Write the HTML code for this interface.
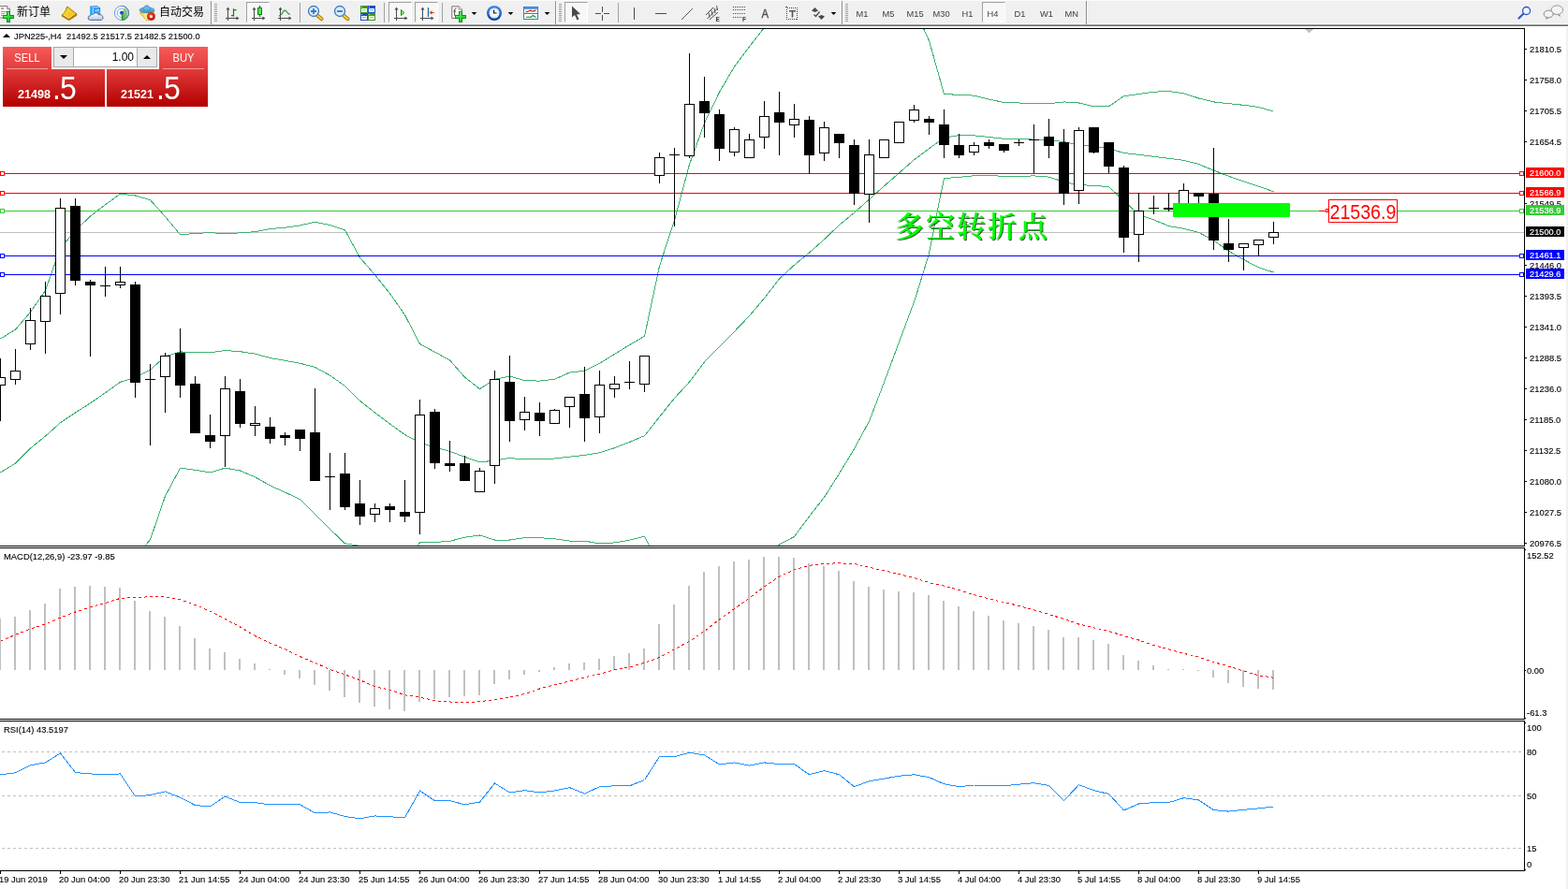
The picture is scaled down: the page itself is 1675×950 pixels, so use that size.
<!DOCTYPE html>
<html lang="zh"><head><meta charset="utf-8"><title>JPN225-,H4</title>
<style>
html,body{margin:0;padding:0;background:#fff;}
body{width:1675px;height:950px;position:relative;overflow:hidden;font-family:"Liberation Sans","Noto Sans CJK SC",sans-serif;font-size:9.3px;color:#000;}
.t{position:absolute;white-space:nowrap;line-height:12px;height:12px;font-size:9.6px;transform:scaleX(.98);transform-origin:0 50%;-webkit-text-stroke:0.12px #000;}
.ax{left:1634px;}
.tag{position:absolute;left:1630px;width:41px;height:11px;line-height:12px;color:#fff;white-space:nowrap;}
.tag span{position:absolute;left:4px;top:0px;font-size:9.6px;transform:scaleX(.965);transform-origin:0 50%;-webkit-text-stroke:0.15px #fff;}
.date{top:934px;}
#edge{position:absolute;left:1673px;top:0;width:2px;height:950px;background:#f0f0f0;}
#big{position:absolute;left:1420.5px;top:213.5px;width:72px;height:25px;line-height:25px;font-size:19.6px;color:#ff0000;white-space:nowrap;transform:scaleY(1.1);transform-origin:0 50%;}
#cn{position:absolute;left:956px;top:222.5px;font-family:"Liberation Serif","Noto Serif CJK SC",serif;font-weight:600;font-size:31px;line-height:40px;color:#00ff00;white-space:nowrap;letter-spacing:2px;text-shadow:1px 1px 0 rgba(0,40,0,.75);}


#tb{position:absolute;left:0;top:0;width:1675px;height:30px;background:#f0f0f0;}
#tb .l0{position:absolute;left:0;top:0;width:1675px;height:1px;background:#fbfbfb;}
#tb .l25{position:absolute;left:0;top:25px;width:1675px;height:1px;background:#f7f7f7;}
#tb .l26{position:absolute;left:0;top:26px;width:1675px;height:1px;background:#a0a0a0;}
#tb .l27{position:absolute;left:0;top:27px;width:1675px;height:1px;background:#696969;}
#tb .l28{position:absolute;left:0;top:28px;width:1675px;height:2px;background:#fff;}
#tb .cn{position:absolute;top:5px;height:16px;line-height:16px;font-size:12px;color:#000;white-space:nowrap;font-family:"Liberation Sans","Noto Sans CJK SC",sans-serif;}
#tb .tf{position:absolute;top:7.500px;height:14px;line-height:14px;font-size:9.3px;color:#3c3c3c;white-space:nowrap;transform-origin:0 50%;transform:scaleY(1.07);}
#tb .pb{position:absolute;top:2px;height:22px;box-sizing:border-box;background:#f0f0f0 repeating-conic-gradient(#ffffff 0 25%,#f0f0f0 0 50%) 0 0/2px 2px;border-left:1px solid #a0a0a0;border-top:1px solid #a0a0a0;border-right:1px solid #fff;border-bottom:1px solid #fff;}
#tb .sep{position:absolute;top:3px;width:1px;height:21px;background:#a0a0a0;}
#tb .sepf{position:absolute;top:1px;width:1px;height:25px;background:#8c8c8c;box-shadow:1px 0 0 #fff;}
#tb .grip{position:absolute;top:4px;width:3px;height:20px;background:repeating-linear-gradient(to bottom,#a0a0a0 0,#a0a0a0 1px,transparent 1px,transparent 2px);}
#sym{position:absolute;left:15px;top:33px;height:12px;line-height:12px;font-size:9.6px;white-space:nowrap;color:#000;transform:scaleX(.972);transform-origin:0 50%;-webkit-text-stroke:0.12px #000;}
#tri{position:absolute;left:3px;top:36px;width:0;height:0;border-left:4px solid transparent;border-right:4px solid transparent;border-bottom:4px solid #000;}
#oc{position:absolute;left:3px;top:50px;width:220px;height:64px;font-family:"Liberation Sans",sans-serif;}
#oc .tab{position:absolute;top:0;height:24px;width:52px;background:linear-gradient(#f55a5a,#e33c3c);}
#oc .tab i{position:absolute;left:4px;right:4px;bottom:0;height:1px;background:#f59a9a;}
#oc .tab span{position:absolute;left:0;right:0;top:4px;text-align:center;color:#fff;font-size:12px;line-height:16px;transform:scaleX(.93);}
#oc .pan{position:absolute;top:24px;height:40px;background:linear-gradient(#e23a3a,#b20000);}
#oc .sm{position:absolute;bottom:7px;color:#fff;font-weight:700;font-size:12.6px;line-height:12px;}
#oc .lg{position:absolute;bottom:2px;color:#fff;font-size:35.500px;line-height:35px;letter-spacing:-1px;transform:scaleX(.9);transform-origin:0 100%;}
#oc .spin{position:absolute;left:54px;top:0;width:111px;height:22px;box-sizing:border-box;border:1px solid #a8a8a8;background:#fff;}
#oc .spin .b{position:absolute;top:0;width:20px;height:20px;background:#e9e9e9;}
#oc .spin .v{position:absolute;right:24px;top:2px;font-size:12px;line-height:16px;color:#000;}
#oc .arr{position:absolute;left:6px;top:8px;width:0;height:0;border-left:4px solid transparent;border-right:4px solid transparent;}

</style></head><body>
<svg width="1675" height="950" viewBox="0 0 1675 950" style="position:absolute;left:0;top:0" shape-rendering="crispEdges">
<defs><clipPath id="cm"><rect x="0" y="31" width="1628" height="552"/></clipPath></defs>
<g clip-path="url(#cm)">
<rect x="0" y="248" width="1628" height="1" fill="#c0c0c0"/>
<polyline points="0.5,362.0 16.5,352.2 32.5,333.5 48.5,310.5 64.5,265.0 80.5,246.5 96.5,231.0 112.5,218.8 128.5,207.1 144.5,209.0 160.5,213.7 176.5,231.5 192.5,250.7 208.5,249.5 224.5,248.6 240.5,249.7 256.5,248.9 272.5,247.7 288.5,244.6 304.5,243.2 320.5,240.9 336.5,237.2 352.5,240.6 368.5,245.8 384.5,275.3 400.5,293.7 416.5,313.7 432.5,336.6 448.5,367.5 464.5,376.2 480.5,384.9 496.5,403.1 512.5,415.7 528.5,405.3 544.5,402.1 560.5,406.7 576.5,407.1 592.5,405.3 608.5,398.1 624.5,396.3 640.5,388.3 656.5,378.4 672.5,368.6 688.5,359.3 704.5,284.2 720.5,235.5 736.5,175.7 752.5,131.5 768.5,98.5 784.5,71.3 800.5,49.8 816.5,29.5 832.5,10.5 848.5,-4.5 864.5,-14.5 880.5,-21.5 896.5,-25.5 912.5,-27.5 928.5,-27.5 944.5,-23.5 960.5,-13.5 976.5,8.5 992.5,43.5 1008.5,100.5 1024.5,101.4 1040.5,102.1 1056.5,106.1 1072.5,109.5 1088.5,110.0 1104.5,110.5 1120.5,110.7 1136.5,108.9 1152.5,110.0 1168.5,113.8 1184.5,113.8 1200.5,102.7 1216.5,100.5 1232.5,98.2 1248.5,97.5 1264.5,99.8 1280.5,105.0 1296.5,108.9 1312.5,110.7 1328.5,112.3 1344.5,114.5 1360.5,119.1" fill="none" stroke="#3cb371" stroke-width="1"/>
<polyline points="0.5,504.8 16.5,495.1 32.5,479.0 48.5,466.0 64.5,451.8 80.5,441.0 96.5,430.8 112.5,419.7 128.5,408.3 144.5,403.5 160.5,395.2 176.5,380.9 192.5,376.0 208.5,376.1 224.5,376.7 240.5,374.5 256.5,375.7 272.5,378.1 288.5,382.5 304.5,385.3 320.5,388.2 336.5,392.5 352.5,401.1 368.5,412.6 384.5,428.3 400.5,441.0 416.5,453.0 432.5,464.5 448.5,473.0 464.5,478.0 480.5,482.3 496.5,488.3 512.5,493.9 528.5,492.1 544.5,489.5 560.5,490.9 576.5,490.9 592.5,490.0 608.5,488.2 624.5,486.4 640.5,483.7 656.5,478.7 672.5,472.4 688.5,465.7 704.5,445.5 720.5,425.5 736.5,408.1 752.5,386.7 768.5,370.5 784.5,354.3 800.5,337.6 816.5,318.7 832.5,298.0 848.5,283.2 864.5,270.0 880.5,255.8 896.5,240.5 912.5,227.4 928.5,213.1 944.5,198.8 960.5,184.8 976.5,170.7 992.5,158.7 1008.5,147.3 1024.5,144.5 1040.5,144.8 1056.5,146.5 1072.5,148.3 1088.5,148.5 1104.5,149.1 1120.5,149.7 1136.5,151.5 1152.5,155.0 1168.5,156.5 1184.5,158.7 1200.5,163.5 1216.5,165.3 1232.5,167.3 1248.5,169.3 1264.5,171.3 1280.5,175.5 1296.5,182.1 1312.5,188.3 1328.5,193.9 1344.5,199.1 1360.5,204.8" fill="none" stroke="#3cb371" stroke-width="1"/>
<polyline points="144.5,600.5 154.8,583.5 160.5,576.7 176.5,530.2 192.5,500.1 208.5,502.3 224.5,505.0 240.5,500.1 256.5,503.0 272.5,509.8 288.5,518.9 304.5,526.1 320.5,533.6 336.5,549.5 352.5,565.4 368.5,580.8 384.5,583.5 400.5,590.5 416.5,592.5 432.5,590.5 445.5,583.5 448.5,579.9 464.5,579.5 480.5,578.3 496.5,574.2 512.5,572.0 528.5,577.0 544.5,577.0 560.5,574.7 576.5,574.7 592.5,575.8 608.5,578.1 624.5,578.1 640.5,581.0 656.5,579.9 672.5,577.2 688.5,573.1 694.0,583.5 704.5,600.5 720.5,610.5 816.5,610.5 831.5,583.5 832.5,581.8 848.5,573.5 864.5,551.7 880.5,531.4 896.5,506.1 912.5,479.7 928.5,450.2 944.5,408.5 960.5,365.4 976.5,322.8 992.5,271.0 1000.5,229.5 1008.5,190.5 1024.5,189.4 1040.5,187.7 1056.5,187.2 1072.5,188.5 1088.5,188.4 1104.5,187.9 1120.5,189.1 1136.5,194.3 1152.5,197.8 1168.5,198.2 1184.5,199.7 1200.5,214.3 1216.5,229.5 1232.5,234.9 1248.5,241.5 1264.5,244.3 1280.5,248.3 1296.5,257.0 1312.5,268.3 1328.5,277.4 1344.5,285.8 1360.5,291.0" fill="none" stroke="#3cb371" stroke-width="1"/>
<rect x="0" y="185" width="1628" height="1" fill="#ff0000"/>
<rect x="0" y="206" width="1628" height="1" fill="#ff0000"/>
<rect x="0" y="225" width="1628" height="1" fill="#32cd32"/>
<rect x="0" y="273" width="1628" height="1" fill="#0000ff"/>
<rect x="0" y="293" width="1628" height="1" fill="#0000ff"/>
<rect x="0" y="383" width="1" height="67" fill="#000"/>
<rect x="-5" y="403" width="11" height="9" fill="#000"/>
<rect x="-4" y="404" width="9" height="7" fill="#fff"/>
<rect x="16" y="373" width="1" height="38" fill="#000"/>
<rect x="11" y="396" width="11" height="10" fill="#000"/>
<rect x="12" y="397" width="9" height="8" fill="#fff"/>
<rect x="32" y="329" width="1" height="45" fill="#000"/>
<rect x="27" y="342" width="11" height="26" fill="#000"/>
<rect x="28" y="343" width="9" height="24" fill="#fff"/>
<rect x="48" y="301" width="1" height="77" fill="#000"/>
<rect x="43" y="316" width="11" height="28" fill="#000"/>
<rect x="44" y="317" width="9" height="26" fill="#fff"/>
<rect x="64" y="212" width="1" height="124" fill="#000"/>
<rect x="59" y="222" width="11" height="92" fill="#000"/>
<rect x="60" y="223" width="9" height="90" fill="#fff"/>
<rect x="80" y="212" width="1" height="93" fill="#000"/>
<rect x="75" y="220" width="11" height="80" fill="#000"/>
<rect x="96" y="299" width="1" height="82" fill="#000"/>
<rect x="91" y="301" width="11" height="4" fill="#000"/>
<rect x="112" y="285" width="1" height="32" fill="#000"/>
<rect x="107" y="305" width="11" height="1" fill="#000"/>
<rect x="128" y="285" width="1" height="23" fill="#000"/>
<rect x="123" y="301" width="11" height="4" fill="#000"/>
<rect x="124" y="302" width="9" height="2" fill="#fff"/>
<rect x="144" y="301" width="1" height="124" fill="#000"/>
<rect x="139" y="304" width="11" height="105" fill="#000"/>
<rect x="160" y="389" width="1" height="87" fill="#000"/>
<rect x="155" y="405" width="11" height="1" fill="#000"/>
<rect x="176" y="377" width="1" height="64" fill="#000"/>
<rect x="171" y="380" width="11" height="23" fill="#000"/>
<rect x="172" y="381" width="9" height="21" fill="#fff"/>
<rect x="192" y="351" width="1" height="74" fill="#000"/>
<rect x="187" y="377" width="11" height="35" fill="#000"/>
<rect x="208" y="402" width="1" height="61" fill="#000"/>
<rect x="203" y="410" width="11" height="53" fill="#000"/>
<rect x="224" y="443" width="1" height="36" fill="#000"/>
<rect x="219" y="465" width="11" height="7" fill="#000"/>
<rect x="240" y="402" width="1" height="97" fill="#000"/>
<rect x="235" y="415" width="11" height="51" fill="#000"/>
<rect x="236" y="416" width="9" height="49" fill="#fff"/>
<rect x="256" y="405" width="1" height="52" fill="#000"/>
<rect x="251" y="418" width="11" height="35" fill="#000"/>
<rect x="272" y="434" width="1" height="32" fill="#000"/>
<rect x="267" y="452" width="11" height="3" fill="#000"/>
<rect x="268" y="453" width="9" height="1" fill="#fff"/>
<rect x="288" y="446" width="1" height="28" fill="#000"/>
<rect x="283" y="456" width="11" height="13" fill="#000"/>
<rect x="304" y="462" width="1" height="14" fill="#000"/>
<rect x="299" y="465" width="11" height="3" fill="#000"/>
<rect x="320" y="459" width="1" height="23" fill="#000"/>
<rect x="315" y="459" width="11" height="10" fill="#000"/>
<rect x="336" y="415" width="1" height="99" fill="#000"/>
<rect x="331" y="462" width="11" height="52" fill="#000"/>
<rect x="352" y="484" width="1" height="61" fill="#000"/>
<rect x="347" y="509" width="11" height="1" fill="#000"/>
<rect x="368" y="484" width="1" height="61" fill="#000"/>
<rect x="363" y="506" width="11" height="36" fill="#000"/>
<rect x="384" y="513" width="1" height="48" fill="#000"/>
<rect x="379" y="538" width="11" height="14" fill="#000"/>
<rect x="400" y="538" width="1" height="20" fill="#000"/>
<rect x="395" y="543" width="11" height="7" fill="#000"/>
<rect x="396" y="544" width="9" height="5" fill="#fff"/>
<rect x="416" y="538" width="1" height="20" fill="#000"/>
<rect x="411" y="541" width="11" height="4" fill="#000"/>
<rect x="432" y="513" width="1" height="45" fill="#000"/>
<rect x="427" y="547" width="11" height="5" fill="#000"/>
<rect x="448" y="427" width="1" height="144" fill="#000"/>
<rect x="443" y="443" width="11" height="105" fill="#000"/>
<rect x="444" y="444" width="9" height="103" fill="#fff"/>
<rect x="464" y="437" width="1" height="64" fill="#000"/>
<rect x="459" y="440" width="11" height="55" fill="#000"/>
<rect x="480" y="471" width="1" height="33" fill="#000"/>
<rect x="475" y="495" width="11" height="3" fill="#000"/>
<rect x="496" y="487" width="1" height="27" fill="#000"/>
<rect x="491" y="495" width="11" height="19" fill="#000"/>
<rect x="512" y="500" width="1" height="26" fill="#000"/>
<rect x="507" y="503" width="11" height="23" fill="#000"/>
<rect x="508" y="504" width="9" height="21" fill="#fff"/>
<rect x="528" y="396" width="1" height="121" fill="#000"/>
<rect x="523" y="405" width="11" height="93" fill="#000"/>
<rect x="524" y="406" width="9" height="91" fill="#fff"/>
<rect x="544" y="380" width="1" height="92" fill="#000"/>
<rect x="539" y="408" width="11" height="42" fill="#000"/>
<rect x="560" y="424" width="1" height="36" fill="#000"/>
<rect x="555" y="440" width="11" height="9" fill="#000"/>
<rect x="556" y="441" width="9" height="7" fill="#fff"/>
<rect x="576" y="430" width="1" height="36" fill="#000"/>
<rect x="571" y="441" width="11" height="9" fill="#000"/>
<rect x="592" y="437" width="1" height="16" fill="#000"/>
<rect x="587" y="438" width="11" height="15" fill="#000"/>
<rect x="588" y="439" width="9" height="13" fill="#fff"/>
<rect x="608" y="424" width="1" height="33" fill="#000"/>
<rect x="603" y="424" width="11" height="11" fill="#000"/>
<rect x="604" y="425" width="9" height="9" fill="#fff"/>
<rect x="624" y="392" width="1" height="80" fill="#000"/>
<rect x="619" y="421" width="11" height="26" fill="#000"/>
<rect x="640" y="396" width="1" height="67" fill="#000"/>
<rect x="635" y="411" width="11" height="35" fill="#000"/>
<rect x="636" y="412" width="9" height="33" fill="#fff"/>
<rect x="656" y="402" width="1" height="23" fill="#000"/>
<rect x="651" y="410" width="11" height="6" fill="#000"/>
<rect x="652" y="411" width="9" height="4" fill="#fff"/>
<rect x="672" y="386" width="1" height="30" fill="#000"/>
<rect x="667" y="408" width="11" height="1" fill="#000"/>
<rect x="688" y="380" width="1" height="39" fill="#000"/>
<rect x="683" y="380" width="11" height="31" fill="#000"/>
<rect x="684" y="381" width="9" height="29" fill="#fff"/>
<rect x="704" y="163" width="1" height="33" fill="#000"/>
<rect x="699" y="168" width="11" height="20" fill="#000"/>
<rect x="700" y="169" width="9" height="18" fill="#fff"/>
<rect x="720" y="158" width="1" height="84" fill="#000"/>
<rect x="715" y="165" width="11" height="1" fill="#000"/>
<rect x="736" y="57" width="1" height="112" fill="#000"/>
<rect x="731" y="111" width="11" height="56" fill="#000"/>
<rect x="732" y="112" width="9" height="54" fill="#fff"/>
<rect x="752" y="82" width="1" height="65" fill="#000"/>
<rect x="747" y="108" width="11" height="13" fill="#000"/>
<rect x="768" y="117" width="1" height="55" fill="#000"/>
<rect x="763" y="122" width="11" height="37" fill="#000"/>
<rect x="784" y="136" width="1" height="31" fill="#000"/>
<rect x="779" y="138" width="11" height="25" fill="#000"/>
<rect x="780" y="139" width="9" height="23" fill="#fff"/>
<rect x="800" y="143" width="1" height="26" fill="#000"/>
<rect x="795" y="149" width="11" height="20" fill="#000"/>
<rect x="796" y="150" width="9" height="18" fill="#fff"/>
<rect x="816" y="108" width="1" height="51" fill="#000"/>
<rect x="811" y="124" width="11" height="23" fill="#000"/>
<rect x="812" y="125" width="9" height="21" fill="#fff"/>
<rect x="832" y="98" width="1" height="68" fill="#000"/>
<rect x="827" y="120" width="11" height="11" fill="#000"/>
<rect x="848" y="111" width="1" height="36" fill="#000"/>
<rect x="843" y="127" width="11" height="7" fill="#000"/>
<rect x="844" y="128" width="9" height="5" fill="#fff"/>
<rect x="864" y="124" width="1" height="62" fill="#000"/>
<rect x="859" y="128" width="11" height="38" fill="#000"/>
<rect x="880" y="130" width="1" height="42" fill="#000"/>
<rect x="875" y="136" width="11" height="28" fill="#000"/>
<rect x="876" y="137" width="9" height="26" fill="#fff"/>
<rect x="896" y="143" width="1" height="26" fill="#000"/>
<rect x="891" y="143" width="11" height="10" fill="#000"/>
<rect x="912" y="149" width="1" height="70" fill="#000"/>
<rect x="907" y="155" width="11" height="52" fill="#000"/>
<rect x="928" y="149" width="1" height="89" fill="#000"/>
<rect x="923" y="165" width="11" height="43" fill="#000"/>
<rect x="924" y="166" width="9" height="41" fill="#fff"/>
<rect x="944" y="149" width="1" height="20" fill="#000"/>
<rect x="939" y="149" width="11" height="20" fill="#000"/>
<rect x="940" y="150" width="9" height="18" fill="#fff"/>
<rect x="960" y="130" width="1" height="23" fill="#000"/>
<rect x="955" y="130" width="11" height="23" fill="#000"/>
<rect x="956" y="131" width="9" height="21" fill="#fff"/>
<rect x="976" y="112" width="1" height="19" fill="#000"/>
<rect x="971" y="117" width="11" height="12" fill="#000"/>
<rect x="972" y="118" width="9" height="10" fill="#fff"/>
<rect x="992" y="124" width="1" height="20" fill="#000"/>
<rect x="987" y="127" width="11" height="4" fill="#000"/>
<rect x="1008" y="117" width="1" height="52" fill="#000"/>
<rect x="1003" y="133" width="11" height="22" fill="#000"/>
<rect x="1024" y="143" width="1" height="26" fill="#000"/>
<rect x="1019" y="155" width="11" height="11" fill="#000"/>
<rect x="1040" y="152" width="1" height="14" fill="#000"/>
<rect x="1035" y="155" width="11" height="8" fill="#000"/>
<rect x="1036" y="156" width="9" height="6" fill="#fff"/>
<rect x="1056" y="149" width="1" height="10" fill="#000"/>
<rect x="1051" y="152" width="11" height="4" fill="#000"/>
<rect x="1072" y="154" width="1" height="9" fill="#000"/>
<rect x="1067" y="154" width="11" height="7" fill="#000"/>
<rect x="1088" y="149" width="1" height="7" fill="#000"/>
<rect x="1083" y="152" width="11" height="1" fill="#000"/>
<rect x="1104" y="133" width="1" height="52" fill="#000"/>
<rect x="1099" y="149" width="11" height="1" fill="#000"/>
<rect x="1120" y="127" width="1" height="42" fill="#000"/>
<rect x="1115" y="146" width="11" height="10" fill="#000"/>
<rect x="1136" y="138" width="1" height="81" fill="#000"/>
<rect x="1131" y="152" width="11" height="55" fill="#000"/>
<rect x="1152" y="136" width="1" height="82" fill="#000"/>
<rect x="1147" y="139" width="11" height="65" fill="#000"/>
<rect x="1148" y="140" width="9" height="63" fill="#fff"/>
<rect x="1168" y="136" width="1" height="28" fill="#000"/>
<rect x="1163" y="136" width="11" height="27" fill="#000"/>
<rect x="1184" y="152" width="1" height="33" fill="#000"/>
<rect x="1179" y="152" width="11" height="26" fill="#000"/>
<rect x="1200" y="177" width="1" height="93" fill="#000"/>
<rect x="1195" y="179" width="11" height="75" fill="#000"/>
<rect x="1216" y="206" width="1" height="74" fill="#000"/>
<rect x="1211" y="225" width="11" height="26" fill="#000"/>
<rect x="1212" y="226" width="9" height="24" fill="#fff"/>
<rect x="1232" y="209" width="1" height="20" fill="#000"/>
<rect x="1227" y="222" width="11" height="1" fill="#000"/>
<rect x="1248" y="206" width="1" height="20" fill="#000"/>
<rect x="1243" y="222" width="11" height="2" fill="#000"/>
<rect x="1264" y="196" width="1" height="27" fill="#000"/>
<rect x="1259" y="203" width="11" height="20" fill="#000"/>
<rect x="1260" y="204" width="9" height="18" fill="#fff"/>
<rect x="1280" y="206" width="1" height="13" fill="#000"/>
<rect x="1275" y="206" width="11" height="4" fill="#000"/>
<rect x="1296" y="158" width="1" height="109" fill="#000"/>
<rect x="1291" y="207" width="11" height="50" fill="#000"/>
<rect x="1312" y="234" width="1" height="46" fill="#000"/>
<rect x="1307" y="260" width="11" height="7" fill="#000"/>
<rect x="1328" y="260" width="1" height="29" fill="#000"/>
<rect x="1323" y="260" width="11" height="5" fill="#000"/>
<rect x="1324" y="261" width="9" height="3" fill="#fff"/>
<rect x="1344" y="256" width="1" height="18" fill="#000"/>
<rect x="1339" y="256" width="11" height="6" fill="#000"/>
<rect x="1340" y="257" width="9" height="4" fill="#fff"/>
<rect x="1360" y="237" width="1" height="24" fill="#000"/>
<rect x="1355" y="248" width="11" height="6" fill="#000"/>
<rect x="1356" y="249" width="9" height="4" fill="#fff"/>
<rect x="0.5" y="183.5" width="4" height="4" fill="#fff" stroke="#ff0000" stroke-width="1"/>
<rect x="1623.5" y="183.5" width="4" height="4" fill="#fff" stroke="#ff0000" stroke-width="1"/>
<rect x="0.5" y="204.5" width="4" height="4" fill="#fff" stroke="#ff0000" stroke-width="1"/>
<rect x="1623.5" y="204.5" width="4" height="4" fill="#fff" stroke="#ff0000" stroke-width="1"/>
<rect x="0.5" y="223.5" width="4" height="4" fill="#fff" stroke="#32cd32" stroke-width="1"/>
<rect x="1623.5" y="223.5" width="4" height="4" fill="#fff" stroke="#32cd32" stroke-width="1"/>
<rect x="0.5" y="271.5" width="4" height="4" fill="#fff" stroke="#0000ff" stroke-width="1"/>
<rect x="1623.5" y="271.5" width="4" height="4" fill="#fff" stroke="#0000ff" stroke-width="1"/>
<rect x="0.5" y="291.5" width="4" height="4" fill="#fff" stroke="#0000ff" stroke-width="1"/>
<rect x="1623.5" y="291.5" width="4" height="4" fill="#fff" stroke="#0000ff" stroke-width="1"/>
<rect x="1253" y="217" width="125" height="15" fill="#00ff00"/>
<rect x="1409" y="225" width="8" height="1" fill="#ff0000"/>
<rect x="1416.5" y="223.5" width="2" height="3" fill="#fff" stroke="#ff0000" stroke-width="1"/>
<rect x="1419.5" y="213.5" width="73" height="24" fill="#fff" stroke="#ff0000" stroke-width="1"/>
</g>
<polygon points="1394,31 1403,31 1398.5,35.5" fill="#c0c0c0" shape-rendering="geometricPrecision"/>
<rect x="0" y="30" width="1629" height="1" fill="#000"/>
<rect x="1628" y="30" width="1" height="901" fill="#000"/>
<rect x="0" y="583" width="1629" height="1" fill="#000"/>
<rect x="0" y="584" width="1628" height="1" fill="#fff"/>
<rect x="0" y="585" width="1629" height="1" fill="#000"/>
<rect x="0" y="768" width="1629" height="1" fill="#000"/>
<rect x="0" y="769" width="1628" height="1" fill="#fff"/>
<rect x="0" y="770" width="1629" height="1" fill="#000"/>
<rect x="0" y="930" width="1629" height="1" fill="#000"/>
<rect x="1628" y="584" width="1" height="1" fill="#fff"/>
<rect x="1628" y="769" width="1" height="1" fill="#fff"/>
<rect x="1629" y="52" width="2" height="1" fill="#000"/>
<rect x="1629" y="85" width="2" height="1" fill="#000"/>
<rect x="1629" y="118" width="2" height="1" fill="#000"/>
<rect x="1629" y="151" width="2" height="1" fill="#000"/>
<rect x="1629" y="217" width="2" height="1" fill="#000"/>
<rect x="1629" y="283" width="2" height="1" fill="#000"/>
<rect x="1629" y="316" width="2" height="1" fill="#000"/>
<rect x="1629" y="349" width="2" height="1" fill="#000"/>
<rect x="1629" y="382" width="2" height="1" fill="#000"/>
<rect x="1629" y="415" width="2" height="1" fill="#000"/>
<rect x="1629" y="448" width="2" height="1" fill="#000"/>
<rect x="1629" y="481" width="2" height="1" fill="#000"/>
<rect x="1629" y="514" width="2" height="1" fill="#000"/>
<rect x="1629" y="547" width="2" height="1" fill="#000"/>
<rect x="1629" y="580" width="2" height="1" fill="#000"/>
<rect x="1629" y="587" width="1" height="1" fill="#000"/>
<rect x="1629" y="716" width="1" height="1" fill="#000"/>
<rect x="1629" y="767" width="1" height="1" fill="#000"/>
<rect x="1629" y="772" width="1" height="1" fill="#000"/>
<rect x="1629" y="929" width="1" height="1" fill="#000"/>
<rect x="0" y="931" width="1" height="3" fill="#000"/>
<rect x="64" y="931" width="1" height="3" fill="#000"/>
<rect x="128" y="931" width="1" height="3" fill="#000"/>
<rect x="192" y="931" width="1" height="3" fill="#000"/>
<rect x="256" y="931" width="1" height="3" fill="#000"/>
<rect x="320" y="931" width="1" height="3" fill="#000"/>
<rect x="384" y="931" width="1" height="3" fill="#000"/>
<rect x="448" y="931" width="1" height="3" fill="#000"/>
<rect x="512" y="931" width="1" height="3" fill="#000"/>
<rect x="576" y="931" width="1" height="3" fill="#000"/>
<rect x="640" y="931" width="1" height="3" fill="#000"/>
<rect x="704" y="931" width="1" height="3" fill="#000"/>
<rect x="768" y="931" width="1" height="3" fill="#000"/>
<rect x="832" y="931" width="1" height="3" fill="#000"/>
<rect x="896" y="931" width="1" height="3" fill="#000"/>
<rect x="960" y="931" width="1" height="3" fill="#000"/>
<rect x="1024" y="931" width="1" height="3" fill="#000"/>
<rect x="1088" y="931" width="1" height="3" fill="#000"/>
<rect x="1152" y="931" width="1" height="3" fill="#000"/>
<rect x="1216" y="931" width="1" height="3" fill="#000"/>
<rect x="1280" y="931" width="1" height="3" fill="#000"/>
<rect x="1344" y="931" width="1" height="3" fill="#000"/>
<rect x="-1" y="661" width="2" height="55" fill="#c0c0c0"/>
<rect x="15" y="659" width="2" height="57" fill="#c0c0c0"/>
<rect x="31" y="652" width="2" height="64" fill="#c0c0c0"/>
<rect x="47" y="645" width="2" height="71" fill="#c0c0c0"/>
<rect x="63" y="629" width="2" height="87" fill="#c0c0c0"/>
<rect x="79" y="627" width="2" height="89" fill="#c0c0c0"/>
<rect x="95" y="626" width="2" height="90" fill="#c0c0c0"/>
<rect x="111" y="627" width="2" height="89" fill="#c0c0c0"/>
<rect x="127" y="628" width="2" height="88" fill="#c0c0c0"/>
<rect x="143" y="642" width="2" height="74" fill="#c0c0c0"/>
<rect x="159" y="653" width="2" height="63" fill="#c0c0c0"/>
<rect x="175" y="659" width="2" height="57" fill="#c0c0c0"/>
<rect x="191" y="669" width="2" height="47" fill="#c0c0c0"/>
<rect x="207" y="682" width="2" height="34" fill="#c0c0c0"/>
<rect x="223" y="693" width="2" height="23" fill="#c0c0c0"/>
<rect x="239" y="697" width="2" height="19" fill="#c0c0c0"/>
<rect x="255" y="704" width="2" height="12" fill="#c0c0c0"/>
<rect x="271" y="709" width="2" height="7" fill="#c0c0c0"/>
<rect x="287" y="715" width="2" height="1" fill="#c0c0c0"/>
<rect x="303" y="716" width="2" height="5" fill="#c0c0c0"/>
<rect x="319" y="716" width="2" height="9" fill="#c0c0c0"/>
<rect x="335" y="716" width="2" height="16" fill="#c0c0c0"/>
<rect x="351" y="716" width="2" height="22" fill="#c0c0c0"/>
<rect x="367" y="716" width="2" height="29" fill="#c0c0c0"/>
<rect x="383" y="716" width="2" height="35" fill="#c0c0c0"/>
<rect x="399" y="716" width="2" height="39" fill="#c0c0c0"/>
<rect x="415" y="716" width="2" height="42" fill="#c0c0c0"/>
<rect x="431" y="716" width="2" height="44" fill="#c0c0c0"/>
<rect x="447" y="716" width="2" height="34" fill="#c0c0c0"/>
<rect x="463" y="716" width="2" height="31" fill="#c0c0c0"/>
<rect x="479" y="716" width="2" height="29" fill="#c0c0c0"/>
<rect x="495" y="716" width="2" height="28" fill="#c0c0c0"/>
<rect x="511" y="716" width="2" height="27" fill="#c0c0c0"/>
<rect x="527" y="716" width="2" height="15" fill="#c0c0c0"/>
<rect x="543" y="716" width="2" height="10" fill="#c0c0c0"/>
<rect x="559" y="716" width="2" height="5" fill="#c0c0c0"/>
<rect x="575" y="716" width="2" height="2" fill="#c0c0c0"/>
<rect x="591" y="713" width="2" height="3" fill="#c0c0c0"/>
<rect x="607" y="709" width="2" height="7" fill="#c0c0c0"/>
<rect x="623" y="708" width="2" height="8" fill="#c0c0c0"/>
<rect x="639" y="704" width="2" height="12" fill="#c0c0c0"/>
<rect x="655" y="701" width="2" height="15" fill="#c0c0c0"/>
<rect x="671" y="698" width="2" height="18" fill="#c0c0c0"/>
<rect x="687" y="693" width="2" height="23" fill="#c0c0c0"/>
<rect x="703" y="667" width="2" height="49" fill="#c0c0c0"/>
<rect x="719" y="646" width="2" height="70" fill="#c0c0c0"/>
<rect x="735" y="626" width="2" height="90" fill="#c0c0c0"/>
<rect x="751" y="611" width="2" height="105" fill="#c0c0c0"/>
<rect x="767" y="605" width="2" height="111" fill="#c0c0c0"/>
<rect x="783" y="600" width="2" height="116" fill="#c0c0c0"/>
<rect x="799" y="598" width="2" height="118" fill="#c0c0c0"/>
<rect x="815" y="595" width="2" height="121" fill="#c0c0c0"/>
<rect x="831" y="595" width="2" height="121" fill="#c0c0c0"/>
<rect x="847" y="596" width="2" height="120" fill="#c0c0c0"/>
<rect x="863" y="602" width="2" height="114" fill="#c0c0c0"/>
<rect x="879" y="605" width="2" height="111" fill="#c0c0c0"/>
<rect x="895" y="610" width="2" height="106" fill="#c0c0c0"/>
<rect x="911" y="621" width="2" height="95" fill="#c0c0c0"/>
<rect x="927" y="627" width="2" height="89" fill="#c0c0c0"/>
<rect x="943" y="630" width="2" height="86" fill="#c0c0c0"/>
<rect x="959" y="632" width="2" height="84" fill="#c0c0c0"/>
<rect x="975" y="633" width="2" height="83" fill="#c0c0c0"/>
<rect x="991" y="636" width="2" height="80" fill="#c0c0c0"/>
<rect x="1007" y="642" width="2" height="74" fill="#c0c0c0"/>
<rect x="1023" y="648" width="2" height="68" fill="#c0c0c0"/>
<rect x="1039" y="653" width="2" height="63" fill="#c0c0c0"/>
<rect x="1055" y="658" width="2" height="58" fill="#c0c0c0"/>
<rect x="1071" y="663" width="2" height="53" fill="#c0c0c0"/>
<rect x="1087" y="666" width="2" height="50" fill="#c0c0c0"/>
<rect x="1103" y="669" width="2" height="47" fill="#c0c0c0"/>
<rect x="1119" y="673" width="2" height="43" fill="#c0c0c0"/>
<rect x="1135" y="681" width="2" height="35" fill="#c0c0c0"/>
<rect x="1151" y="681" width="2" height="35" fill="#c0c0c0"/>
<rect x="1167" y="684" width="2" height="32" fill="#c0c0c0"/>
<rect x="1183" y="688" width="2" height="28" fill="#c0c0c0"/>
<rect x="1199" y="700" width="2" height="16" fill="#c0c0c0"/>
<rect x="1215" y="706" width="2" height="10" fill="#c0c0c0"/>
<rect x="1231" y="711" width="2" height="5" fill="#c0c0c0"/>
<rect x="1247" y="715" width="2" height="1" fill="#c0c0c0"/>
<rect x="1263" y="715" width="2" height="1" fill="#c0c0c0"/>
<rect x="1279" y="716" width="2" height="1" fill="#c0c0c0"/>
<rect x="1295" y="716" width="2" height="8" fill="#c0c0c0"/>
<rect x="1311" y="716" width="2" height="14" fill="#c0c0c0"/>
<rect x="1327" y="716" width="2" height="18" fill="#c0c0c0"/>
<rect x="1343" y="716" width="2" height="20" fill="#c0c0c0"/>
<rect x="1359" y="716" width="2" height="21" fill="#c0c0c0"/>
<polyline points="0.5,685.3 16.5,678.3 32.5,672.0 48.5,667.0 64.5,660.0 80.5,654.0 96.5,648.9 112.5,644.4 128.5,639.4 144.5,638.2 160.5,637.9 176.5,637.9 192.5,640.7 208.5,646.4 224.5,653.2 240.5,661.5 256.5,670.0 272.5,679.5 288.5,687.1 304.5,693.8 320.5,701.6 336.5,708.4 352.5,715.4 368.5,720.9 384.5,726.7 400.5,733.7 416.5,737.2 432.5,742.7 448.5,745.2 464.5,748.7 480.5,750.0 496.5,750.7 512.5,749.7 528.5,747.7 544.5,745.2 560.5,741.5 576.5,736.0 592.5,731.7 608.5,727.9 624.5,723.9 640.5,720.2 656.5,715.9 672.5,712.9 688.5,708.4 704.5,702.6 720.5,693.8 736.5,685.3 752.5,674.5 768.5,662.0 784.5,650.7 800.5,639.1 816.5,626.9 832.5,616.1 848.5,608.8 864.5,604.3 880.5,602.3 896.5,601.8 912.5,602.5 928.5,606.3 944.5,609.8 960.5,613.6 976.5,617.6 992.5,622.6 1008.5,626.1 1024.5,630.6 1040.5,635.6 1056.5,639.9 1072.5,643.7 1088.5,647.4 1104.5,651.9 1120.5,656.5 1136.5,661.5 1152.5,667.0 1168.5,670.8 1184.5,674.5 1200.5,679.5 1216.5,684.0 1232.5,689.5 1248.5,693.8 1264.5,698.3 1280.5,702.1 1296.5,707.6 1312.5,712.1 1328.5,717.1 1344.5,721.7 1360.5,724.2" fill="none" stroke="#ff0000" stroke-width="1" stroke-dasharray="3 3"/>
<line x1="2" y1="803.5" x2="1628" y2="803.5" stroke="#c0c0c0" stroke-width="1" stroke-dasharray="3 3"/>
<line x1="2" y1="850.5" x2="1628" y2="850.5" stroke="#c0c0c0" stroke-width="1" stroke-dasharray="3 3"/>
<line x1="2" y1="906.5" x2="1628" y2="906.5" stroke="#c0c0c0" stroke-width="1" stroke-dasharray="3 3"/>
<polyline points="0.5,827.8 16.5,825.8 32.5,817.8 48.5,814.9 64.5,804.9 80.5,825.5 96.5,826.9 112.5,827.8 128.5,826.9 144.5,851.0 160.5,849.6 176.5,845.9 192.5,852.2 208.5,860.5 224.5,861.9 240.5,851.0 256.5,857.6 272.5,857.6 288.5,859.9 304.5,859.9 320.5,859.9 336.5,868.8 352.5,867.9 368.5,872.5 384.5,874.8 400.5,871.9 416.5,872.8 432.5,873.7 448.5,845.0 464.5,855.6 480.5,855.6 496.5,859.9 512.5,857.0 528.5,837.0 544.5,847.0 560.5,844.7 576.5,847.0 592.5,845.0 608.5,841.6 624.5,848.2 640.5,840.7 656.5,839.8 672.5,839.8 688.5,833.5 704.5,808.6 720.5,808.6 736.5,804.3 752.5,806.9 768.5,816.9 784.5,814.9 800.5,818.1 816.5,814.9 832.5,816.6 848.5,816.6 864.5,827.8 880.5,823.5 896.5,827.8 912.5,840.7 928.5,834.7 944.5,832.1 960.5,829.2 976.5,827.8 992.5,830.7 1008.5,837.8 1024.5,840.7 1040.5,839.0 1056.5,839.0 1072.5,839.8 1088.5,838.1 1104.5,836.7 1120.5,839.5 1136.5,855.6 1152.5,838.7 1168.5,844.7 1184.5,848.4 1200.5,865.9 1216.5,859.0 1232.5,857.6 1248.5,857.6 1264.5,852.7 1280.5,855.0 1296.5,865.6 1312.5,867.1 1328.5,865.3 1344.5,863.9 1360.5,861.9" fill="none" stroke="#1e90ff" stroke-width="1"/>
</svg>
<div id="edge"></div>
<div class="t ax" style="top:47px">21810.5</div>
<div class="t ax" style="top:80px">21758.0</div>
<div class="t ax" style="top:113px">21705.5</div>
<div class="t ax" style="top:146px">21654.5</div>
<div class="t ax" style="top:212px">21549.5</div>
<div class="t ax" style="top:278px">21446.0</div>
<div class="t ax" style="top:311px">21393.5</div>
<div class="t ax" style="top:344px">21341.0</div>
<div class="t ax" style="top:377px">21288.5</div>
<div class="t ax" style="top:410px">21236.0</div>
<div class="t ax" style="top:443px">21185.0</div>
<div class="t ax" style="top:476px">21132.5</div>
<div class="t ax" style="top:509px">21080.0</div>
<div class="t ax" style="top:542px">21027.5</div>
<div class="t ax" style="top:575px">20976.5</div>
<div class="t" style="left:1631px;top:588px">152.52</div>
<div class="t" style="left:1631px;top:711px">0.00</div>
<div class="t" style="left:1631px;top:756px">-61.3</div>
<div class="t" style="left:1631px;top:772px">100</div>
<div class="t" style="left:1631px;top:798px">80</div>
<div class="t" style="left:1631px;top:845px">50</div>
<div class="t" style="left:1631px;top:901px">15</div>
<div class="t" style="left:1631px;top:918px">0</div>
<div class="tag" style="top:179px;background:#ff0000"><span>21600.0</span></div>
<div class="tag" style="top:200px;background:#ff0000"><span>21566.9</span></div>
<div class="tag" style="top:219px;background:#32cd32"><span>21536.9</span></div>
<div class="tag" style="top:242px;background:#000000"><span>21500.0</span></div>
<div class="tag" style="top:267px;background:#0000ff"><span>21461.1</span></div>
<div class="tag" style="top:287px;background:#0000ff"><span>21429.6</span></div>
<div class="t date" style="left:-1px">19 Jun 2019</div>
<div class="t date" style="left:63px">20 Jun 04:00</div>
<div class="t date" style="left:127px">20 Jun 23:30</div>
<div class="t date" style="left:191px">21 Jun 14:55</div>
<div class="t date" style="left:255px">24 Jun 04:00</div>
<div class="t date" style="left:319px">24 Jun 23:30</div>
<div class="t date" style="left:383px">25 Jun 14:55</div>
<div class="t date" style="left:447px">26 Jun 04:00</div>
<div class="t date" style="left:511px">26 Jun 23:30</div>
<div class="t date" style="left:575px">27 Jun 14:55</div>
<div class="t date" style="left:639px">28 Jun 04:00</div>
<div class="t date" style="left:703px">30 Jun 23:30</div>
<div class="t date" style="left:767px">1 Jul 14:55</div>
<div class="t date" style="left:831px">2 Jul 04:00</div>
<div class="t date" style="left:895px">2 Jul 23:30</div>
<div class="t date" style="left:959px">3 Jul 14:55</div>
<div class="t date" style="left:1023px">4 Jul 04:00</div>
<div class="t date" style="left:1087px">4 Jul 23:30</div>
<div class="t date" style="left:1151px">5 Jul 14:55</div>
<div class="t date" style="left:1215px">8 Jul 04:00</div>
<div class="t date" style="left:1279px">8 Jul 23:30</div>
<div class="t date" style="left:1343px">9 Jul 14:55</div>
<div class="t" style="left:4px;top:589px">MACD(12,26,9) -23.97 -9.85</div>
<div class="t" style="left:4px;top:774px">RSI(14) 43.5197</div>
<div id="big">21536.9</div>
<div id="cn">多空转折点</div>
<div id="tb"><div class="l0"></div><div class="l25"></div><div class="l26"></div><div class="l27"></div><div class="l28"></div><div class="sepf" style="left:225px"></div><div class="grip" style="left:229px"></div><div class="pb" style="left:263px;width:25px"></div><div class="sep" style="left:320px"></div><div class="sep" style="left:410px"></div><div class="pb" style="left:415px;width:25px"></div><div class="pb" style="left:443px;width:25px"></div><div class="sep" style="left:472px"></div><div class="sepf" style="left:593px"></div><div class="grip" style="left:597px"></div><div class="pb" style="left:603px;width:25px"></div><div class="sep" style="left:660px"></div><div class="sepf" style="left:899px"></div><div class="grip" style="left:903px"></div><div class="pb" style="left:1049px;width:25px"></div><div class="sepf" style="left:1160px"></div><svg width="1675" height="30" viewBox="0 0 1675 30" style="position:absolute;left:0;top:0"><defs><linearGradient id="gp" x1="0" y1="0" x2="1" y2="1"><stop offset="0" stop-color="#8cf890"/><stop offset=".5" stop-color="#28e038"/><stop offset="1" stop-color="#18b828"/></linearGradient><linearGradient id="gbk" x1="0" y1="0" x2="1" y2="1"><stop offset="0" stop-color="#c88a10"/><stop offset=".35" stop-color="#f8d828"/><stop offset=".7" stop-color="#eec020"/><stop offset="1" stop-color="#c08810"/></linearGradient><linearGradient id="gcl" x1="0" y1="0" x2="0" y2="1"><stop offset="0" stop-color="#ffffff"/><stop offset="1" stop-color="#bccbe2"/></linearGradient><linearGradient id="ghat" x1="0" y1="0" x2="0" y2="1"><stop offset="0" stop-color="#7cc4ec"/><stop offset="1" stop-color="#3a90c8"/></linearGradient><linearGradient id="gface" x1="0" y1="0" x2="1" y2="0"><stop offset="0" stop-color="#f0c020"/><stop offset=".45" stop-color="#fff088"/><stop offset="1" stop-color="#f0c828"/></linearGradient><radialGradient id="grad" cx=".35" cy=".35" r=".7"><stop offset="0" stop-color="#ff5030"/><stop offset="1" stop-color="#c01000"/></radialGradient><linearGradient id="grd" x1="0" y1="1" x2="1" y2="0"><stop offset="0" stop-color="#2aa82a"/><stop offset=".6" stop-color="#9ed09a"/><stop offset="1" stop-color="#d8e8dc"/></linearGradient></defs><path d="M-2 6.500h9.500l3 3v9.500h-12.500z" fill="#fdfdfd" stroke="#787878" stroke-width="1"/><path d="M7.500 6.500v3h3" fill="#e8e8e8" stroke="#787878" stroke-width="0.800"/><path d="M1 9h3" stroke="#8c8c8c" stroke-width="1.500"/><path d="M1 12.500h6M1 14.500h4M1 16.500h2" stroke="#9a9a9a" stroke-width="1"/><path d="M7.500 12.700h3v4h4v3h-4v4h-3v-4h-4v-3h4z" fill="url(#gp)" stroke="#109018" stroke-width="1" shape-rendering="crispEdges"/><path d="M66.200 16l7.400 4.600 8.100-6 0.300 1.800-8.300 5.400-7.600-4.500z" fill="#c08a18" stroke="#a06a08" stroke-width="0.700"/><path d="M71.800 7l9.800 7.600-8 6-7.400-4.600q3.600-2.600 4.200-5.500q0.500-2.200 1.400-3.500z" fill="url(#gbk)" stroke="#a87008" stroke-width="0.900"/><path d="M67.800 15.700l5.800 3.500 6.400-4.800" fill="none" stroke="#fbe890" stroke-width="1" opacity=".85"/><path d="M96.200 6.900l7.500-0.600 3.400 2.500-7.600 0.300z" fill="#7cc8ff" stroke="#3a68d0" stroke-width="0.600"/><path d="M96.200 6.900l3.300 2.200v7h-3.300z" fill="#24acff"/><path d="M99.500 9.100l7.600-0.300v6.500h-7.600z" fill="#1490f8"/><path d="M99.500 9v7" stroke="#d8f0ff" stroke-width="0.800"/><path d="M101.300 11.300l4.600-0.700" stroke="#e8f6ff" stroke-width="1.100"/><path d="M101.300 13h5.500" stroke="#b8e0ff" stroke-width="0.700"/><path d="M96.300 21.400a2.300 2.300 0 0 1 0.300-4.600a2.600 2.600 0 0 1 3-1.600a3.400 3.400 0 0 1 6 0.800a2.700 2.700 0 0 1 2.800 5.400z" fill="url(#gcl)" stroke="#4a68a8" stroke-width="1"/><circle cx="130" cy="13.900" r="7.800" fill="#f4f8fb"/><path d="M130 21.700a7.800 7.800 0 0 0 3.900-14.560l-3.900 6.760z" fill="url(#grd)"/><circle cx="130" cy="13.900" r="7.600" fill="none" stroke="#4a74d8" stroke-width="1" opacity=".75"/><path d="M130 21.500a7.600 7.600 0 0 0 0-15.200" fill="none" stroke="#2a7868" stroke-width="1" opacity=".55"/><circle cx="130" cy="13.900" r="4.800" fill="none" stroke="#6a8ee0" stroke-width="1" opacity=".7"/><circle cx="130" cy="13.700" r="2" fill="#1a4ad0"/><path d="M130.500 14v7.700" stroke="#18a018" stroke-width="1.400"/><path d="M149.300 13.600l15.500-1.200-6.500 9.300-2 0z" fill="url(#gface)" stroke="#c8a010" stroke-width="0.700"/><ellipse cx="157" cy="10.800" rx="8" ry="2.900" fill="url(#ghat)" stroke="#2a80b0" stroke-width="0.700"/><path d="M153 10.200c0.300-5.800 7.200-5.800 7.500 0c-2 1.200-5.500 1.200-7.500 0z" fill="#6ab8e8" stroke="#2a80b0" stroke-width="0.600"/><circle cx="161.400" cy="17.600" r="4.100" fill="url(#grad)" stroke="#a81000" stroke-width="0.500"/><rect x="160.100" y="16.300" width="2.700" height="2.700" fill="#fff"/><path d="M243.5 8.5v13.5M241 19.5h13" stroke="#4a4a4a" stroke-width="1" fill="none"/><path d="M241.5 10.5l2-3 2 3zM252.5 17.5l3 2-3 2z" fill="#4a4a4a"/><path d="M249.500 9.300v8.400M247 16.500h2.500M250 10.500h2.500" stroke="#0a8a0a" stroke-width="1.250" fill="none"/><path d="M271.5 8.5v13.5M269 19.5h13" stroke="#4a4a4a" stroke-width="1" fill="none"/><path d="M269.5 10.5l2-3 2 3zM280.5 17.5l3 2-3 2z" fill="#4a4a4a"/><path d="M277.5 6v12" stroke="#0a8a0a" stroke-width="1.4"/><rect x="275.5" y="8.5" width="4" height="7" fill="#58e058" stroke="#0a8a0a" stroke-width="1"/><path d="M299.5 8.5v13.5M297 19.5h13" stroke="#4a4a4a" stroke-width="1" fill="none"/><path d="M297.5 10.5l2-3 2 3zM308.5 17.5l3 2-3 2z" fill="#4a4a4a"/><path d="M298 17.200q3-1.500 4.800-5 q1.200-2 3-0.200 q1.500 2.500 4 3.500" stroke="#2a9a2a" stroke-width="1.2" fill="none"/><path d="M339 16.500l4.500 3.800" stroke="#a87808" stroke-width="4" stroke-linecap="round"/><path d="M339 16.500l4.500 3.800" stroke="#f0d040" stroke-width="2" stroke-linecap="round"/><circle cx="335" cy="12" r="5.5" fill="#d8ecfa" stroke="#3a78c8" stroke-width="1.3"/><path d="M332 12h6M335 9v6" stroke="#3a7ab0" stroke-width="1.8"/><path d="M367 16.500l4.500 3.800" stroke="#a87808" stroke-width="4" stroke-linecap="round"/><path d="M367 16.500l4.500 3.800" stroke="#f0d040" stroke-width="2" stroke-linecap="round"/><circle cx="363" cy="12" r="5.5" fill="#d8ecfa" stroke="#3a78c8" stroke-width="1.3"/><path d="M360 12h6" stroke="#3a7ab0" stroke-width="1.8"/><rect x="385" y="6" width="8" height="8" fill="#3a9a1a"/><rect x="386" y="9" width="6" height="4" fill="#fff"/><rect x="387" y="10" width="4" height="1" fill="#3a9a1a" opacity=".5"/><rect x="386" y="7" width="1" height="1" fill="#fff" opacity=".7"/><rect x="393" y="6" width="8" height="8" fill="#1a50c8"/><rect x="394" y="9" width="6" height="4" fill="#fff"/><rect x="395" y="10" width="4" height="1" fill="#1a50c8" opacity=".5"/><rect x="394" y="7" width="1" height="1" fill="#fff" opacity=".7"/><rect x="385" y="14" width="8" height="8" fill="#1a50c8"/><rect x="386" y="17" width="6" height="4" fill="#fff"/><rect x="387" y="18" width="4" height="1" fill="#1a50c8" opacity=".5"/><rect x="386" y="15" width="1" height="1" fill="#fff" opacity=".7"/><rect x="393" y="14" width="8" height="8" fill="#3a9a1a"/><rect x="394" y="17" width="6" height="4" fill="#fff"/><rect x="395" y="18" width="4" height="1" fill="#3a9a1a" opacity=".5"/><rect x="394" y="15" width="1" height="1" fill="#fff" opacity=".7"/><path d="M423.5 8.5v13.5M421 19.5h13" stroke="#4a4a4a" stroke-width="1" fill="none"/><path d="M421.5 10.5l2-3 2 3zM432.5 17.5l3 2-3 2z" fill="#4a4a4a"/><path d="M428.500 10.500v6l3.300-3z" fill="#8ee88e" stroke="#0a9a0a" stroke-width="1"/><path d="M451.5 8.5v13.5M449 19.5h13" stroke="#4a4a4a" stroke-width="1" fill="none"/><path d="M449.5 10.5l2-3 2 3zM460.5 17.5l3 2-3 2z" fill="#4a4a4a"/><path d="M457.5 8v10" stroke="#1a6ab0" stroke-width="1.3"/><path d="M459 13.500h5" stroke="#d84a10" stroke-width="1"/><path d="M458.500 13.500l3-2.200v4.400z" fill="#d84a10"/><path d="M482.800 6.800h7.400l3.300 3.300v9.400h-10.700z" fill="#fdfdfd" stroke="#747474" stroke-width="1"/><path d="M490.200 6.800v3.300h3.300" fill="#ececec" stroke="#747474" stroke-width="0.800"/><path d="M487.600 8.800q-1.800-0.200-2 2.200v5.800M484.300 12h2.800" stroke="#4a4630" stroke-width="0.900" fill="none"/><path d="M490.700 12.700h3v4h4v3h-4v4h-3v-4h-4v-3h4z" fill="url(#gp)" stroke="#109018" stroke-width="1" shape-rendering="crispEdges"/><path d="M503.7 13h5.600l-2.800 2.900z" fill="#000"/><defs><linearGradient id="ck" x1="0" y1="0" x2="0" y2="1"><stop offset="0" stop-color="#3a92f4"/><stop offset="1" stop-color="#0a3ca0"/></linearGradient></defs><circle cx="528" cy="14" r="8" fill="url(#ck)"/><circle cx="528" cy="14" r="5.500" fill="#f6f9fd"/><circle cx="528" cy="14" r="4.300" fill="none" stroke="#8a8a8a" stroke-width="0.800" stroke-dasharray="0.600 1.650"/><path d="M527.600 10.800v3.200h3" stroke="#101010" stroke-width="1.200" fill="none"/><path d="M542.7 13h5.600l-2.800 2.900z" fill="#000"/><rect x="559.500" y="7.500" width="15" height="13" fill="#fff" stroke="#3a7ad0" stroke-width="1"/><rect x="560" y="8" width="14" height="2" fill="#5a9ae8"/><path d="M560 14.500h14" stroke="#3a7ad0"/><path d="M561.500 13l2.500-0.800 2.500-1 2.500 1 3.500-1" stroke="#a82810" stroke-width="1.2" fill="none"/><path d="M562 18.500l2.500-0.500 2 0.500 3-2 3 2" stroke="#1a9a1a" stroke-width="1.200" fill="none"/><path d="M581.7 13h5.600l-2.800 2.900z" fill="#000"/><path d="M611 6.500v12l3-2.500 2.500 5.500 2-1-2.500-5 4-0.500z" fill="#4a4a4a"/><path d="M643.500 7v6M643.500 16v6M636 14.500h6M645 14.500h6" stroke="#4a4a4a" stroke-width="1"/><path d="M677.500 8v13" stroke="#4a4a4a" stroke-width="1"/><path d="M700 14.500h12" stroke="#4a4a4a" stroke-width="1"/><path d="M728 21l12-12" stroke="#5a5a5a" stroke-width="1"/><path d="M754 16l8-8M755.500 20l11-11M758 21l9-8" stroke="#4a4a4a" stroke-width="1" fill="none"/><path d="M757 13.500l1 5M760 11l1 5.500M763 8.500l1 5.500M765.500 6l1 5" stroke="#4a4a4a" stroke-width="0.9" fill="none"/><path d="M783 7.500h13M783 10.500h13M783 14.500h13M783 18.500h9" stroke="#4a4a4a" stroke-width="1" stroke-dasharray="1 1" fill="none" shape-rendering="crispEdges"/><rect x="840.500" y="8.500" width="11" height="12" fill="none" stroke="#4a4a4a" stroke-width="1" stroke-dasharray="1 1" shape-rendering="crispEdges"/><path d="M843 11.800h7M846.500 11.800v6.700" stroke="#555" stroke-width="1.600" fill="none"/><rect x="839" y="7" width="2" height="1" fill="#4a4a4a"/><path d="M867 11.500l3.500-3.500 3.500 3.500-3.500 1.500z" fill="#4a4a4a"/><path d="M869.500 15.500l2 2 4-5" stroke="#4a4a4a" stroke-width="1.300" fill="none"/><path d="M874 17.500l3.500 3.500 3.500-3.500-3.500-1.500z" fill="#4a4a4a"/><path d="M887.7 13h5.600l-2.800 2.900z" fill="#000"/><path d="M1627.500 14.500l-5 5" stroke="#2a5ad8" stroke-width="2.200" stroke-linecap="round"/><circle cx="1630.600" cy="11.500" r="4" fill="#f4f6fc" stroke="#2a52d0" stroke-width="1.300"/><path d="M1666 15.500l1 2.500-3-2.300z" fill="#707070"/><ellipse cx="1663.300" cy="10.700" rx="6.300" ry="4.800" fill="#f4f4f8" stroke="#8a8a8a" stroke-width="0.900"/><path d="M1652 18.500l-0.800 2.500 3-2.200z" fill="#707070"/><ellipse cx="1654.200" cy="15" rx="5" ry="3.900" fill="#f2f2f8" stroke="#7a7a7a" stroke-width="0.900"/></svg><div class="cn" style="left:18px">新订单</div><div class="cn" style="left:170px">自动交易</div><div class="tf" style="left:764.5px;top:14px;font-size:6.5px;font-weight:700;color:#333">E</div><div class="tf" style="left:793px;top:14px;font-size:6.5px;font-weight:700;color:#333">F</div><div class="tf" style="left:813.500px;top:8px;font-size:11.300px;color:#505050;-webkit-text-stroke:0.35px #505050;">A</div><div class="tf" style="left:914.5px">M1</div><div class="tf" style="left:942.5px">M5</div><div class="tf" style="left:968.5px">M15</div><div class="tf" style="left:996.5px">M30</div><div class="tf" style="left:1027.5px">H1</div><div class="tf" style="left:1054.5px">H4</div><div class="tf" style="left:1083.5px">D1</div><div class="tf" style="left:1111px">W1</div><div class="tf" style="left:1137.5px">MN</div></div><div id="tri"></div><div id="sym">JPN225-,H4&nbsp; 21492.5 21517.5 21482.5 21500.0</div><div id="oc"><div class="tab" style="left:0"><span>SELL</span><i></i></div><div class="tab" style="left:167px;width:52px"><span>BUY</span><i></i></div><div class="pan" style="left:0;width:109px"></div><div class="pan" style="left:111px;width:108px"></div><div class="sm" style="left:16px">21498</div><div class="lg" style="left:52.500px">.5</div><div class="sm" style="left:126px">21521</div><div class="lg" style="left:163.500px">.5</div><div class="spin"><div class="b" style="left:0;border-right:1px solid #a8a8a8"><div class="arr" style="border-top:4px solid #000"></div></div><div class="v">1.00</div><div class="b" style="right:0;border-left:1px solid #a8a8a8"><div class="arr" style="border-bottom:4px solid #000"></div></div></div></div>
</body></html>
